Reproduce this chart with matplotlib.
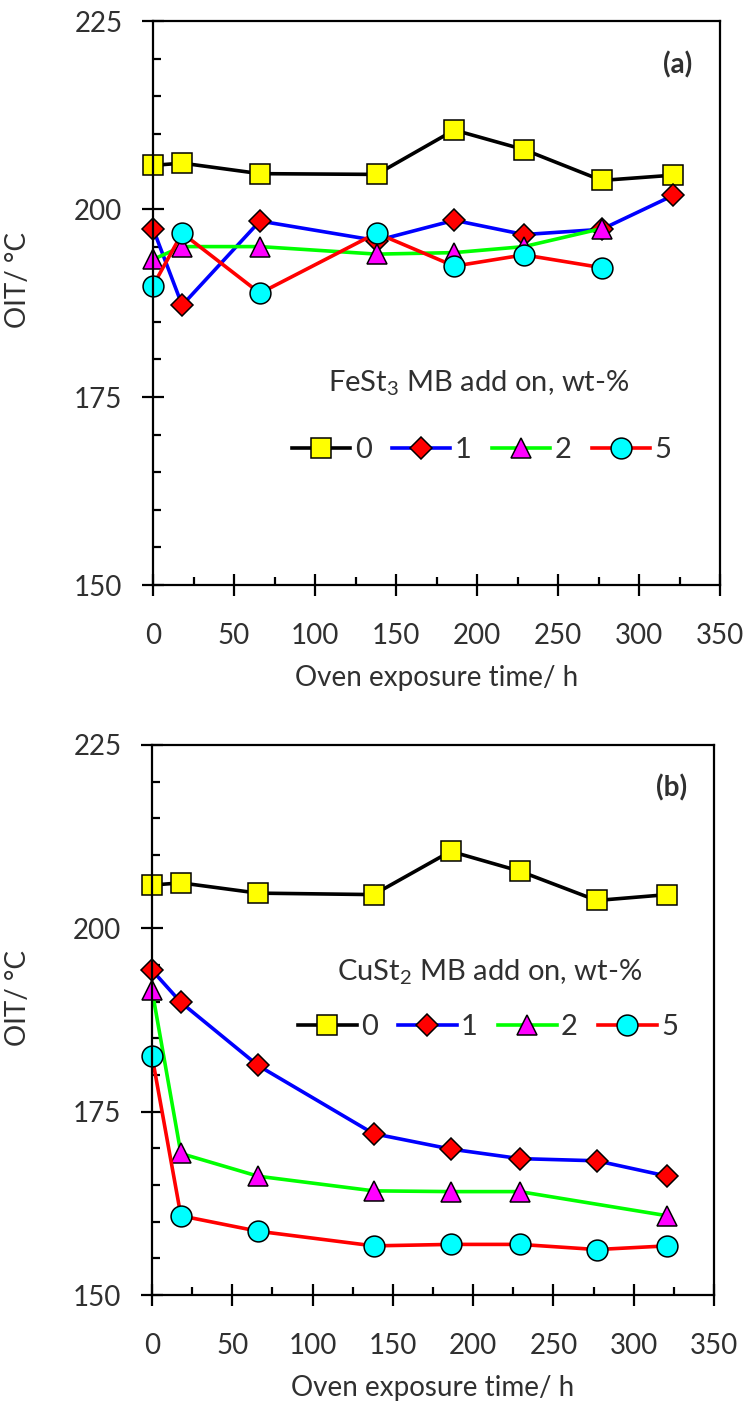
import matplotlib
matplotlib.use("Agg")
import matplotlib.pyplot as plt
from matplotlib.ticker import MultipleLocator

plt.rcParams['font.family'] = ['Lato', 'DejaVu Sans']
plt.rcParams['mathtext.default'] = 'regular'
TXT = '#303030'
plt.rcParams['text.color'] = TXT
plt.rcParams['axes.labelcolor'] = TXT
plt.rcParams['xtick.labelcolor'] = TXT
plt.rcParams['ytick.labelcolor'] = TXT

# ---- data ----
x8 = [0, 18, 66, 138, 186, 229, 277, 321]
x7a = [0, 18, 66, 138, 186, 229, 277]
x7b = [0, 18, 66, 138, 186, 229, 321]

a0 = [205.8, 206.1, 204.7, 204.6, 210.5, 207.9, 203.8, 204.5]
a1 = [197.4, 187.2, 198.4, 195.8, 198.5, 196.6, 197.3, 201.8]
a2 = [193.3, 195.0, 195.0, 194.0, 194.2, 195.0, 197.4]
a5 = [189.8, 196.8, 188.8, 196.8, 192.4, 193.9, 192.2]

b0 = [205.9, 206.2, 204.8, 204.6, 210.5, 207.8, 203.8, 204.6]
b1 = [194.3, 189.9, 181.3, 172.0, 169.9, 168.6, 168.3, 166.2]
b2 = [191.6, 169.3, 166.2, 164.2, 164.1, 164.1, 160.8]
b5 = [182.6, 160.8, 158.7, 156.7, 156.9, 156.9, 156.2, 156.7]

labels = ['0', '1', '2', '5']
xticks = [0, 50, 100, 150, 200, 250, 300, 350]
yticks = [150, 175, 200, 225]

styles = [
    dict(color='black', marker='s', mfc='#FFFF00', ms=14),
    dict(color='#0000FF', marker='D', mfc='#FF0000', ms=11.5),
    dict(color='#00FF00', marker='^', mfc='#FF00FF', ms=14),
    dict(color='#FF0000', marker='o', mfc='#00FFFF', ms=15),
]

fig = plt.figure(figsize=(7.54, 14.14), dpi=100)
W, H = 754, 1414

def make_ax(l, r, t, b):
    return fig.add_axes([l / W, 1 - b / H, (r - l) / W, (b - t) / H])

axA = make_ax(153, 720, 21, 585)
axB = make_ax(152, 714, 745, 1295)

panels = [
    (axA, [(x8, a0), (x8, a1), (x7a, a2), (x7a, a5)], '(a)', r'FeSt$_3$ MB add on, wt-%',
     (0.575, 0.358), (0.58, 0.239)),
    (axB, [(x8, b0), (x8, b1), (x7b, b2), (x8, b5)], '(b)', r'CuSt$_2$ MB add on, wt-%',
     (0.60, 0.587), (0.598, 0.487)),
]

fs = 20
for ax, series, tag, ttl, tpos, lpos in panels:
    for (xs, ys), st, lab in zip(series, styles, labels):
        ax.plot(xs, ys, color=st['color'], lw=2.6, marker=st['marker'],
                mfc=st['mfc'], mec='black', mew=1.1, ms=st['ms'],
                label=lab, clip_on=False)
    ax.set_xlim(0, 350)
    ax.set_ylim(150, 225)
    ax.set_xticks(xticks)
    ax.set_yticks(yticks)
    ax.xaxis.set_minor_locator(MultipleLocator(25))
    ax.yaxis.set_minor_locator(MultipleLocator(5))
    ax.tick_params(which='major', direction='inout', length=16, width=1.6,
                   labelsize=fs, top=False, right=False)
    ax.tick_params(axis='x', which='major', pad=19)
    ax.tick_params(axis='y', which='major', pad=14)
    ax.tick_params(which='minor', direction='in', length=6, width=1.6,
                   top=False, right=False)
    for sp in ax.spines.values():
        sp.set_linewidth(1.6)
    ax.set_xlabel('Oven exposure time/ h', fontsize=fs, labelpad=12)
    ax.set_ylabel('OIT/ \u00b0C', fontsize=fs)
    ax.yaxis.set_label_coords(-0.215, 0.54)
    ax.text(0.925, 0.922, tag, transform=ax.transAxes, fontsize=fs,
            fontweight='bold', ha='center', va='center')
    ax.text(tpos[0], tpos[1], ttl, transform=ax.transAxes, fontsize=fs + 1,
            ha='center', va='center')
    leg_handles = []
    for st in styles:
        lh, = ax.plot([], [], color=st['color'], lw=2.6, marker=st['marker'],
                      mfc=st['mfc'], mec='black', mew=1.1, ms=st['ms'])
        leg_handles.append(lh)
    ax.legend(leg_handles, labels, loc='center', bbox_to_anchor=lpos,
              ncol=4, frameon=False, fontsize=fs + 1, handlelength=2.0,
              handletextpad=0.15, columnspacing=0.7, borderpad=0,
              numpoints=1)

fig.savefig('out.png', dpi=100)
